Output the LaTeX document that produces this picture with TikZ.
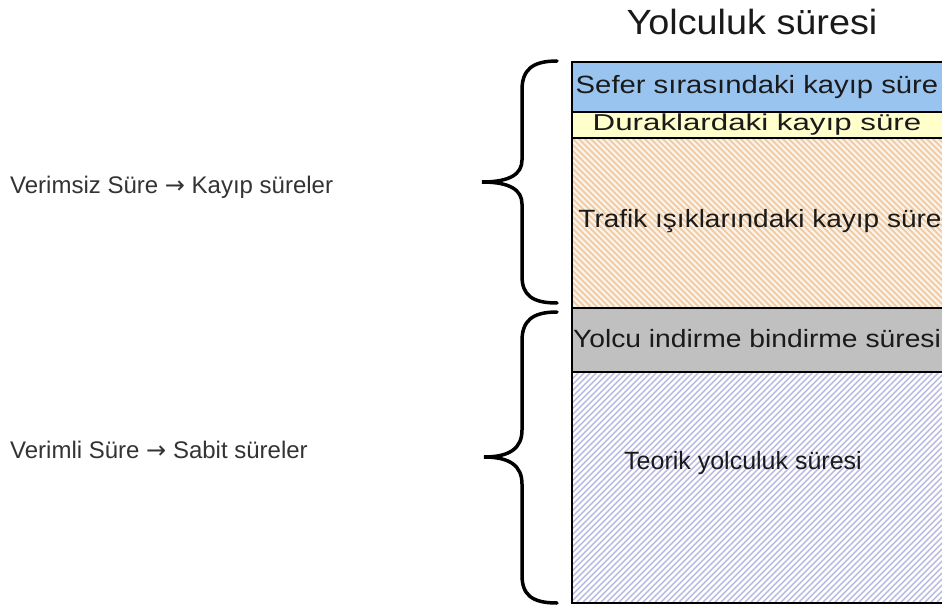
\documentclass[tikz,border=0pt]{standalone}
\usepackage{fontspec}
\setmainfont{Liberation Sans}
\newfontfamily\arrowfont{DejaVu Sans}
\newcommand\stretchfont[2]{\fontsize{#1}{#1}\selectfont\addfontfeature{FakeStretch=#2}}
\definecolor{bandblue}{HTML}{99C4F0}
\definecolor{bandyellow}{HTML}{FFFFCC}
\definecolor{bandgray}{HTML}{C0C0C0}
\definecolor{orangebg}{HTML}{FDF1E4}
\definecolor{orangeline}{HTML}{F0C8A0}
\definecolor{lavline}{HTML}{B8B8E4}
\definecolor{txt}{HTML}{1A1A1A}
\definecolor{labeltxt}{HTML}{333333}
\tikzset{
  band/.style={draw=black, line width=2pt, anchor=north west, inner sep=0pt,
    minimum width=374pt},
  bandtext/.style={text=txt, inner sep=0pt},
  sidelabel/.style={anchor=west, inner sep=0pt, text=labeltxt, font=\stretchfont{24}{1.0}},
  bracepath/.style={line width=3.5pt, line cap=round}
}
\begin{document}
\begin{tikzpicture}[x=1pt,y=-1pt]
\useasboundingbox (0,0) rectangle (942,607);
\fill[white] (0,0) rectangle (942,607);
% hatch backgrounds
\begin{scope}
  \clip (571,137) rectangle (945,307);
  \fill[orangebg] (571,137) rectangle (945,307);
  \foreach \i in {-180,-174,...,380} \draw[orangeline, line width=1.6pt] (571+\i,137) -- ++(170,170);
\end{scope}
\begin{scope}
  \clip (571,371) rectangle (945,602);
  \foreach \i in {-240,-234,...,380} \draw[lavline, line width=1.4pt] (571+\i,602) -- ++(231,-231);
\end{scope}
% bands
\node[band, fill=bandblue, minimum height=50pt] (sefer) at (571,61) {};
\node[band, fill=bandyellow, minimum height=26pt] (durak) at (571,111) {};
\node[band, minimum height=170pt] (trafik) at (571,137) {};
\node[band, fill=bandgray, minimum height=64pt] (yolcu) at (571,307) {};
\node[band, minimum height=231pt] (teorik) at (571,371) {};
% band texts
\node[bandtext, font=\stretchfont{25}{1.17}] (sefertxt) at (757,87) {Sefer sırasındaki kayıp süre};
\node[bandtext, font=\stretchfont{23}{1.36}] (duraktxt) at (757,125) {Duraklardaki kayıp süre};
\node[bandtext, font=\stretchfont{25}{1.12}] (trafiktxt) at (760,221) {Trafik ışıklarındaki kayıp süre};
\node[bandtext, font=\stretchfont{25}{1.13}] (yolcutxt) at (757,339) {Yolcu indirme bindirme süresi};
\node[bandtext, font=\stretchfont{25}{1.0}] (teoriktxt) at (743,463) {Teorik yolculuk süresi};
% title
\node[text=txt, font=\stretchfont{35}{1.08}, inner sep=0pt] (title) at (752,22) {Yolculuk süresi};
% side labels
\node[sidelabel] (verimsiz) at (10,187) {Verimsiz Süre {\arrowfont\fontsize{24}{24}\selectfont →} Kayıp süreler};
\node[sidelabel] (verimli) at (10,450) {Verimli Süre {\arrowfont\fontsize{24}{24}\selectfont →} Sabit süreler};
% braces
\draw[bracepath] (557,61) .. controls (532,61) and (522,70) .. (522,90) -- (522,160)
  .. controls (522,174) and (510,182) .. (482,182)
  .. controls (510,182) and (522,190) .. (522,204) -- (522,276)
  .. controls (522,295) and (532,303) .. (557,303);
\draw[bracepath] (557,312) .. controls (532,312) and (522,321) .. (522,341) -- (522,430)
  .. controls (522,448) and (510,457) .. (484,457)
  .. controls (510,457) and (522,466) .. (522,484) -- (522,575)
  .. controls (522,595) and (532,603) .. (557,603);
\end{tikzpicture}
\end{document}
